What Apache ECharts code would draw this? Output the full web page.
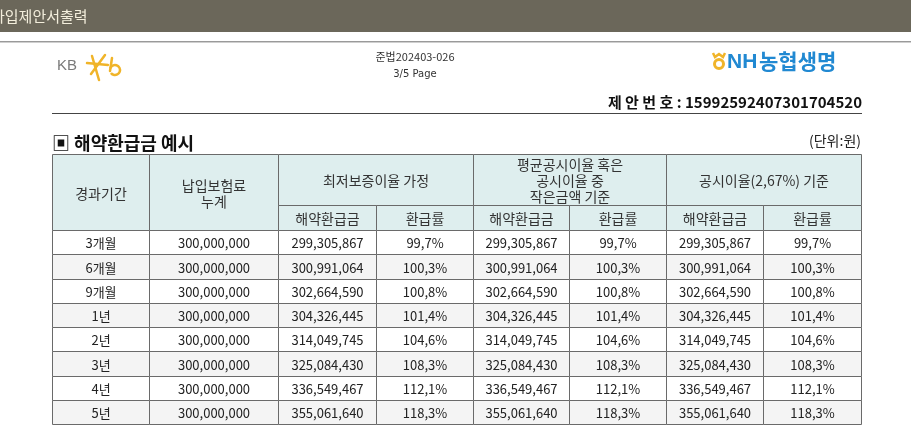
<!DOCTYPE html>
<html>
<head>
<meta charset="utf-8">
<script src="https://cdn.jsdelivr.net/npm/echarts@6/dist/echarts.min.js"></script>
<style>
html,body{margin:0;padding:0;background:#fff;}
#main{width:911px;height:425px;}
</style>
</head>
<body>
<div id="main"></div>
<script>
// ---- data ----
const periods = ['3개월','6개월','9개월','1년','2년','3년','4년','5년'];
const premiums = [300000000,300000000,300000000,300000000,300000000,300000000,300000000,300000000];
const minGuarRefund = [299305867,300991064,302664590,304326445,314049745,325084430,336549467,355061640];
const minGuarRate = [99.7,100.3,100.8,101.4,104.6,108.3,112.1,118.3];
const avgRefund = [299305867,300991064,302664590,304326445,314049745,325084430,336549467,355061640];
const avgRate = [99.7,100.3,100.8,101.4,104.6,108.3,112.1,118.3];
const pubRefund = [299305867,300991064,302664590,304326445,314049745,325084430,336549467,355061640];
const pubRate = [99.7,100.3,100.8,101.4,104.6,108.3,112.1,118.3];
const headTop = ['경과기간','납입보험료\n누계','최저보증이율 가정','평균공시이율 혹은\n공시이율 중\n작은금액 기준','공시이율(2,67%) 기준'];
const headSub = ['해약환급금','환급률'];

// ---- layout ----
const colEdges = [0,97,226,324,421,517,614,711,809];
const headRow1 = 51, headRow2 = 76, rowH = 24.25;
const FONT = '"Noto Sans CJK KR","Noto Sans",sans-serif';

const fmtAmt = v => v.toString().replace(/\B(?=(\d{3})+(?!\d))/g, ',');
const fmtRate = v => v.toFixed(1).replace('.', ',') + '%';

const cells = [];
// header
cells.push({x0:colEdges[0],x1:colEdges[1],y0:0,y1:headRow2,text:headTop[0],kind:'head'});
cells.push({x0:colEdges[1],x1:colEdges[2],y0:0,y1:headRow2,text:headTop[1],kind:'head'});
for (let g=0; g<3; g++) {
  const c = 2 + g*2;
  cells.push({x0:colEdges[c],x1:colEdges[c+2],y0:0,y1:headRow1,text:headTop[2+g],kind:'head'});
  cells.push({x0:colEdges[c],x1:colEdges[c+1],y0:headRow1,y1:headRow2,text:headSub[0],kind:'head'});
  cells.push({x0:colEdges[c+1],x1:colEdges[c+2],y0:headRow1,y1:headRow2,text:headSub[1],kind:'head'});
}
// body
periods.forEach((p,i) => {
  const vals = [p, fmtAmt(premiums[i]), fmtAmt(minGuarRefund[i]), fmtRate(minGuarRate[i]),
    fmtAmt(avgRefund[i]), fmtRate(avgRate[i]), fmtAmt(pubRefund[i]), fmtRate(pubRate[i])];
  const y0 = headRow2 + i*rowH;
  vals.forEach((t,c) => {
    cells.push({x0:colEdges[c],x1:colEdges[c+1],y0:y0,y1:y0+rowH,text:t,kind: i%2 ? 'alt':'body'});
  });
});

const fills = {head:'#deeeee', body:'#ffffff', alt:'#f4f4f4'};
const gold = '#f0b429';

const chart = echarts.init(document.getElementById('main'), null, {renderer:'canvas'});
chart.setOption({
  animation:false,
  backgroundColor:'#ffffff',
  grid:{left:52, top:154, width:809, height:270},
  xAxis:{type:'value', min:0, max:809, show:false},
  yAxis:{type:'value', min:0, max:270, inverse:true, show:false},
  series:[{
    type:'custom',
    coordinateSystem:'cartesian2d',
    data: cells.map(c => [c.x0, c.x1, c.y0, c.y1]),
    renderItem:(params, api) => {
      const c = cells[params.dataIndex];
      const p0 = api.coord([api.value(0), api.value(2)]);
      const p1 = api.coord([api.value(1), api.value(3)]);
      const x = Math.round(p0[0]) + 0.5, y = Math.round(p0[1]) + 0.5;
      const w = Math.round(p1[0]) - Math.round(p0[0]);
      const h = Math.round(p1[1]) - Math.round(p0[1]);
      const isHead = c.kind === 'head';
      return {
        type:'group',
        children:[
          {type:'rect', shape:{x:x, y:y, width:w, height:h},
           style:{fill:fills[c.kind], stroke:'#6a6a6a', lineWidth:1}},
          {type:'text', style:{text:c.text, x:x + w/2, y:y + h/2 + 1, align:'center', verticalAlign:'middle',
             font:(isHead ? '14px ' : '13px ') + FONT, fill: isHead ? '#333' : '#222', lineHeight:16}}
        ]
      };
    }
  }],
  graphic:[
    {type:'rect', shape:{x:0,y:0,width:911,height:32}, style:{fill:'#6b675a'}},
    {type:'text', x:-9, y:16, style:{text:'가입제안서출력', font:'15px ' + FONT, fill:'#f3eedc', verticalAlign:'middle'}},
    {type:'rect', shape:{x:0,y:41,width:911,height:1}, style:{fill:'#9a9a9a'}},
    {type:'rect', shape:{x:0,y:42,width:911,height:1}, style:{fill:'#cfcfcf'}},
    // KB logo
    {type:'text', x:57, y:66, style:{text:'KB', font:'15px "Liberation Sans",sans-serif', fill:'#7a7a7a', verticalAlign:'middle'}},
    {type:'line', shape:{x1:87,y1:63,x2:108,y2:65}, style:{stroke:gold, lineWidth:2.5, lineCap:'round'}},
    {type:'line', shape:{x1:91,y1:74,x2:105,y2:55}, style:{stroke:gold, lineWidth:2.5, lineCap:'round'}},
    {type:'line', shape:{x1:92,y1:56,x2:99,y2:80}, style:{stroke:gold, lineWidth:2.5, lineCap:'round'}},
    {type:'arc', shape:{cx:115,cy:70,r:5,startAngle:-Math.PI*0.9,endAngle:Math.PI*0.8}, style:{stroke:gold, fill:'none', lineWidth:2.5}},
    {type:'line', shape:{x1:110,y1:71,x2:112,y2:58}, style:{stroke:gold, lineWidth:2.5, lineCap:'round'}},
    // center page info
    {type:'text', x:415, y:57, style:{text:'준법202403-026', font:'11px ' + FONT, fill:'#333', align:'center', verticalAlign:'middle'}},
    {type:'text', x:415, y:74, style:{text:'3/5 Page', font:'10px "DejaVu Sans",sans-serif', fill:'#333', align:'center', verticalAlign:'middle'}},
    // NH logo
    {type:'arc', shape:{cx:719,cy:64,r:4.5,startAngle:0,endAngle:Math.PI*2}, style:{stroke:gold, fill:'none', lineWidth:3}},
    {type:'polyline', shape:{points:[[713,53],[715,57],[719,54],[723,57],[725,53]]}, style:{stroke:gold, fill:'none', lineWidth:2.5}},
    {type:'text', x:727, y:62, style:{text:'NH', font:'bold 21px "Liberation Sans",sans-serif', fill:'#2189d2', verticalAlign:'middle'}},
    {type:'text', x:759, y:61, style:{text:'농협생명', font:'bold 21px ' + FONT, fill:'#2189d2', verticalAlign:'middle'}},
    // proposal number
    {type:'text', x:862, y:102, style:{text:'제 안 번 호 : 15992592407301704520', font:'bold 15px ' + FONT, fill:'#111', align:'right', verticalAlign:'middle'}},
    {type:'rect', shape:{x:52,y:113,width:810,height:1}, style:{fill:'#444'}},
    // section title
    {type:'text', x:52, y:143, style:{text:'▣ 해약환급금 예시', font:'bold 18px ' + FONT, fill:'#111', verticalAlign:'middle'}},
    {type:'text', x:861, y:141, style:{text:'(단위:원)', font:'14px ' + FONT, fill:'#222', align:'right', verticalAlign:'middle'}}
  ]
});
</script>
</body>
</html>
